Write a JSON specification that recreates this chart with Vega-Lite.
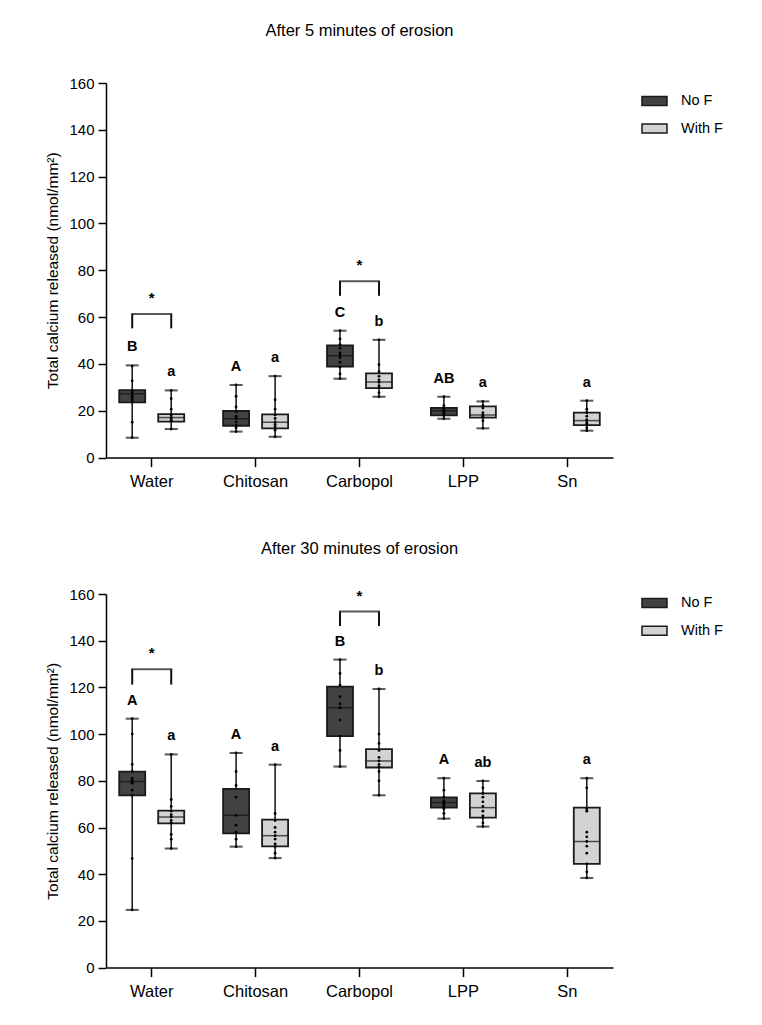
{
  "$schema": "https://vega.github.io/schema/vega-lite/v6.json",
  "background": "white",
  "padding": {"left": 45, "top": 22, "right": 10, "bottom": 10},
  "spacing": 49,
  "config": {
    "font": "Liberation Sans",
    "view": {"stroke": null},
    "axis": {"domainColor": "#000", "domainWidth": 1.5, "tickColor": "#000", "tickWidth": 1.5, "labelColor": "#000", "titleColor": "#000", "grid": false, "labelFont": "Liberation Sans", "titleFont": "Liberation Sans", "titleFontWeight": "normal"},
    "title": {"font": "Liberation Sans", "fontSize": 16.5, "fontWeight": "normal", "color": "#000", "anchor": "middle", "frame": "group"},
    "legend": {"labelFont": "Liberation Sans", "labelFontSize": 14.5, "labelColor": "#000"}
  },
  "resolve": {"legend": {"fill": "independent"}},
  "datasets": {
    "boxes": [
      {"panel": "5", "group": "Water", "F": "No F", "min": 8.5, "q1": 23.6, "median": 27.3, "q3": 28.8, "max": 39.4, "letter": "B"},
      {"panel": "5", "group": "Water", "F": "With F", "min": 12.2, "q1": 15.4, "median": 17.1, "q3": 18.6, "max": 28.7, "letter": "a"},
      {"panel": "5", "group": "Chitosan", "F": "No F", "min": 11.1, "q1": 13.6, "median": 16.6, "q3": 19.9, "max": 31.0, "letter": "A"},
      {"panel": "5", "group": "Chitosan", "F": "With F", "min": 8.9, "q1": 12.5, "median": 15.1, "q3": 18.5, "max": 34.8, "letter": "a"},
      {"panel": "5", "group": "Carbopol", "F": "No F", "min": 33.7, "q1": 38.9, "median": 43.5, "q3": 47.9, "max": 54.2, "letter": "C"},
      {"panel": "5", "group": "Carbopol", "F": "With F", "min": 26.0, "q1": 29.7, "median": 32.3, "q3": 36.0, "max": 50.3, "letter": "b"},
      {"panel": "5", "group": "LPP", "F": "No F", "min": 16.6, "q1": 18.0, "median": 20.0, "q3": 21.2, "max": 26.0, "letter": "AB"},
      {"panel": "5", "group": "LPP", "F": "With F", "min": 12.5, "q1": 17.1, "median": 18.2, "q3": 21.9, "max": 24.0, "letter": "a"},
      {"panel": "5", "group": "Sn", "F": "With F", "min": 11.5, "q1": 13.9, "median": 15.8, "q3": 19.2, "max": 24.3, "letter": "a"},
      {"panel": "30", "group": "Water", "F": "No F", "min": 24.7, "q1": 73.8, "median": 79.7, "q3": 83.9, "max": 106.6, "letter": "A"},
      {"panel": "30", "group": "Water", "F": "With F", "min": 51.0, "q1": 61.8, "median": 64.5, "q3": 67.2, "max": 91.3, "letter": "a"},
      {"panel": "30", "group": "Chitosan", "F": "No F", "min": 51.8, "q1": 57.5, "median": 65.2, "q3": 76.5, "max": 91.9, "letter": "A"},
      {"panel": "30", "group": "Chitosan", "F": "With F", "min": 46.9, "q1": 51.9, "median": 56.5, "q3": 63.4, "max": 86.9, "letter": "a"},
      {"panel": "30", "group": "Carbopol", "F": "No F", "min": 86.1, "q1": 99.1, "median": 111.3, "q3": 120.3, "max": 131.9, "letter": "B"},
      {"panel": "30", "group": "Carbopol", "F": "With F", "min": 73.8, "q1": 85.7, "median": 88.5, "q3": 93.6, "max": 119.3, "letter": "b"},
      {"panel": "30", "group": "LPP", "F": "No F", "min": 63.8, "q1": 68.5, "median": 70.7, "q3": 72.9, "max": 81.1, "letter": "A"},
      {"panel": "30", "group": "LPP", "F": "With F", "min": 60.4, "q1": 64.2, "median": 68.5, "q3": 74.6, "max": 79.9, "letter": "ab"},
      {"panel": "30", "group": "Sn", "F": "With F", "min": 38.4, "q1": 44.4, "median": 54.0, "q3": 68.5, "max": 81.1, "letter": "a"}
    ],
    "brackets": [
      {"panel": "5", "group": "Water", "F": "No F", "low": 55.2, "high": 61.3},
      {"panel": "5", "group": "Water", "F": "With F", "low": 55.2, "high": 61.3},
      {"panel": "5", "group": "Carbopol", "F": "No F", "low": 69.1, "high": 75.3},
      {"panel": "5", "group": "Carbopol", "F": "With F", "low": 69.1, "high": 75.3},
      {"panel": "30", "group": "Water", "F": "No F", "low": 121.2, "high": 127.8},
      {"panel": "30", "group": "Water", "F": "With F", "low": 121.2, "high": 127.8},
      {"panel": "30", "group": "Carbopol", "F": "No F", "low": 146.3, "high": 152.5},
      {"panel": "30", "group": "Carbopol", "F": "With F", "low": 146.3, "high": 152.5}
    ],
    "points": [
      {"panel": "5", "group": "Water", "F": "No F", "value": 39.1},
      {"panel": "5", "group": "Water", "F": "No F", "value": 32.8},
      {"panel": "5", "group": "Water", "F": "No F", "value": 28.6},
      {"panel": "5", "group": "Water", "F": "No F", "value": 27.6},
      {"panel": "5", "group": "Water", "F": "No F", "value": 26.4},
      {"panel": "5", "group": "Water", "F": "No F", "value": 25.7},
      {"panel": "5", "group": "Water", "F": "No F", "value": 24.7},
      {"panel": "5", "group": "Water", "F": "No F", "value": 23.6},
      {"panel": "5", "group": "Water", "F": "No F", "value": 15.1},
      {"panel": "5", "group": "Water", "F": "No F", "value": 8.5},
      {"panel": "5", "group": "Water", "F": "With F", "value": 28.7},
      {"panel": "5", "group": "Water", "F": "With F", "value": 25.2},
      {"panel": "5", "group": "Water", "F": "With F", "value": 20.7},
      {"panel": "5", "group": "Water", "F": "With F", "value": 18.2},
      {"panel": "5", "group": "Water", "F": "With F", "value": 17.2},
      {"panel": "5", "group": "Water", "F": "With F", "value": 16.7},
      {"panel": "5", "group": "Water", "F": "With F", "value": 15.9},
      {"panel": "5", "group": "Water", "F": "With F", "value": 15.5},
      {"panel": "5", "group": "Water", "F": "With F", "value": 12.2},
      {"panel": "5", "group": "Chitosan", "F": "No F", "value": 31.0},
      {"panel": "5", "group": "Chitosan", "F": "No F", "value": 26.2},
      {"panel": "5", "group": "Chitosan", "F": "No F", "value": 21.7},
      {"panel": "5", "group": "Chitosan", "F": "No F", "value": 19.7},
      {"panel": "5", "group": "Chitosan", "F": "No F", "value": 17.7},
      {"panel": "5", "group": "Chitosan", "F": "No F", "value": 16.7},
      {"panel": "5", "group": "Chitosan", "F": "No F", "value": 15.2},
      {"panel": "5", "group": "Chitosan", "F": "No F", "value": 13.7},
      {"panel": "5", "group": "Chitosan", "F": "No F", "value": 12.7},
      {"panel": "5", "group": "Chitosan", "F": "No F", "value": 11.1},
      {"panel": "5", "group": "Chitosan", "F": "With F", "value": 34.8},
      {"panel": "5", "group": "Chitosan", "F": "With F", "value": 24.7},
      {"panel": "5", "group": "Chitosan", "F": "With F", "value": 20.7},
      {"panel": "5", "group": "Chitosan", "F": "With F", "value": 18.2},
      {"panel": "5", "group": "Chitosan", "F": "With F", "value": 16.7},
      {"panel": "5", "group": "Chitosan", "F": "With F", "value": 15.2},
      {"panel": "5", "group": "Chitosan", "F": "With F", "value": 14.2},
      {"panel": "5", "group": "Chitosan", "F": "With F", "value": 13.2},
      {"panel": "5", "group": "Chitosan", "F": "With F", "value": 11.7},
      {"panel": "5", "group": "Chitosan", "F": "With F", "value": 8.9},
      {"panel": "5", "group": "Carbopol", "F": "No F", "value": 54.2},
      {"panel": "5", "group": "Carbopol", "F": "No F", "value": 50.7},
      {"panel": "5", "group": "Carbopol", "F": "No F", "value": 48.2},
      {"panel": "5", "group": "Carbopol", "F": "No F", "value": 46.7},
      {"panel": "5", "group": "Carbopol", "F": "No F", "value": 44.7},
      {"panel": "5", "group": "Carbopol", "F": "No F", "value": 43.7},
      {"panel": "5", "group": "Carbopol", "F": "No F", "value": 42.7},
      {"panel": "5", "group": "Carbopol", "F": "No F", "value": 40.7},
      {"panel": "5", "group": "Carbopol", "F": "No F", "value": 38.7},
      {"panel": "5", "group": "Carbopol", "F": "No F", "value": 35.7},
      {"panel": "5", "group": "Carbopol", "F": "No F", "value": 33.7},
      {"panel": "5", "group": "Carbopol", "F": "With F", "value": 50.3},
      {"panel": "5", "group": "Carbopol", "F": "With F", "value": 39.7},
      {"panel": "5", "group": "Carbopol", "F": "With F", "value": 36.7},
      {"panel": "5", "group": "Carbopol", "F": "With F", "value": 34.7},
      {"panel": "5", "group": "Carbopol", "F": "With F", "value": 33.2},
      {"panel": "5", "group": "Carbopol", "F": "With F", "value": 32.2},
      {"panel": "5", "group": "Carbopol", "F": "With F", "value": 30.7},
      {"panel": "5", "group": "Carbopol", "F": "With F", "value": 29.7},
      {"panel": "5", "group": "Carbopol", "F": "With F", "value": 27.7},
      {"panel": "5", "group": "Carbopol", "F": "With F", "value": 26.0},
      {"panel": "5", "group": "LPP", "F": "No F", "value": 26.0},
      {"panel": "5", "group": "LPP", "F": "No F", "value": 22.2},
      {"panel": "5", "group": "LPP", "F": "No F", "value": 21.2},
      {"panel": "5", "group": "LPP", "F": "No F", "value": 20.5},
      {"panel": "5", "group": "LPP", "F": "No F", "value": 20.0},
      {"panel": "5", "group": "LPP", "F": "No F", "value": 19.5},
      {"panel": "5", "group": "LPP", "F": "No F", "value": 18.7},
      {"panel": "5", "group": "LPP", "F": "No F", "value": 18.0},
      {"panel": "5", "group": "LPP", "F": "No F", "value": 16.6},
      {"panel": "5", "group": "LPP", "F": "With F", "value": 24.0},
      {"panel": "5", "group": "LPP", "F": "With F", "value": 22.2},
      {"panel": "5", "group": "LPP", "F": "With F", "value": 21.2},
      {"panel": "5", "group": "LPP", "F": "With F", "value": 19.2},
      {"panel": "5", "group": "LPP", "F": "With F", "value": 18.2},
      {"panel": "5", "group": "LPP", "F": "With F", "value": 17.7},
      {"panel": "5", "group": "LPP", "F": "With F", "value": 17.1},
      {"panel": "5", "group": "LPP", "F": "With F", "value": 15.7},
      {"panel": "5", "group": "LPP", "F": "With F", "value": 12.5},
      {"panel": "5", "group": "Sn", "F": "With F", "value": 24.3},
      {"panel": "5", "group": "Sn", "F": "With F", "value": 20.7},
      {"panel": "5", "group": "Sn", "F": "With F", "value": 19.2},
      {"panel": "5", "group": "Sn", "F": "With F", "value": 17.7},
      {"panel": "5", "group": "Sn", "F": "With F", "value": 16.2},
      {"panel": "5", "group": "Sn", "F": "With F", "value": 15.7},
      {"panel": "5", "group": "Sn", "F": "With F", "value": 14.7},
      {"panel": "5", "group": "Sn", "F": "With F", "value": 13.9},
      {"panel": "5", "group": "Sn", "F": "With F", "value": 12.7},
      {"panel": "5", "group": "Sn", "F": "With F", "value": 11.5},
      {"panel": "30", "group": "Water", "F": "No F", "value": 106.6},
      {"panel": "30", "group": "Water", "F": "No F", "value": 100.0},
      {"panel": "30", "group": "Water", "F": "No F", "value": 87.0},
      {"panel": "30", "group": "Water", "F": "No F", "value": 84.0},
      {"panel": "30", "group": "Water", "F": "No F", "value": 81.0},
      {"panel": "30", "group": "Water", "F": "No F", "value": 80.0},
      {"panel": "30", "group": "Water", "F": "No F", "value": 79.0},
      {"panel": "30", "group": "Water", "F": "No F", "value": 76.0},
      {"panel": "30", "group": "Water", "F": "No F", "value": 73.8},
      {"panel": "30", "group": "Water", "F": "No F", "value": 46.7},
      {"panel": "30", "group": "Water", "F": "No F", "value": 24.7},
      {"panel": "30", "group": "Water", "F": "With F", "value": 91.3},
      {"panel": "30", "group": "Water", "F": "With F", "value": 72.0},
      {"panel": "30", "group": "Water", "F": "With F", "value": 69.0},
      {"panel": "30", "group": "Water", "F": "With F", "value": 67.0},
      {"panel": "30", "group": "Water", "F": "With F", "value": 65.5},
      {"panel": "30", "group": "Water", "F": "With F", "value": 64.5},
      {"panel": "30", "group": "Water", "F": "With F", "value": 63.0},
      {"panel": "30", "group": "Water", "F": "With F", "value": 62.0},
      {"panel": "30", "group": "Water", "F": "With F", "value": 57.0},
      {"panel": "30", "group": "Water", "F": "With F", "value": 55.0},
      {"panel": "30", "group": "Water", "F": "With F", "value": 51.0},
      {"panel": "30", "group": "Chitosan", "F": "No F", "value": 91.9},
      {"panel": "30", "group": "Chitosan", "F": "No F", "value": 84.0},
      {"panel": "30", "group": "Chitosan", "F": "No F", "value": 78.0},
      {"panel": "30", "group": "Chitosan", "F": "No F", "value": 73.0},
      {"panel": "30", "group": "Chitosan", "F": "No F", "value": 65.2},
      {"panel": "30", "group": "Chitosan", "F": "No F", "value": 61.0},
      {"panel": "30", "group": "Chitosan", "F": "No F", "value": 58.0},
      {"panel": "30", "group": "Chitosan", "F": "No F", "value": 55.0},
      {"panel": "30", "group": "Chitosan", "F": "No F", "value": 51.8},
      {"panel": "30", "group": "Chitosan", "F": "With F", "value": 86.9},
      {"panel": "30", "group": "Chitosan", "F": "With F", "value": 66.0},
      {"panel": "30", "group": "Chitosan", "F": "With F", "value": 63.0},
      {"panel": "30", "group": "Chitosan", "F": "With F", "value": 60.0},
      {"panel": "30", "group": "Chitosan", "F": "With F", "value": 58.0},
      {"panel": "30", "group": "Chitosan", "F": "With F", "value": 56.5},
      {"panel": "30", "group": "Chitosan", "F": "With F", "value": 55.0},
      {"panel": "30", "group": "Chitosan", "F": "With F", "value": 53.0},
      {"panel": "30", "group": "Chitosan", "F": "With F", "value": 51.9},
      {"panel": "30", "group": "Chitosan", "F": "With F", "value": 49.0},
      {"panel": "30", "group": "Chitosan", "F": "With F", "value": 46.9},
      {"panel": "30", "group": "Carbopol", "F": "No F", "value": 131.9},
      {"panel": "30", "group": "Carbopol", "F": "No F", "value": 126.0},
      {"panel": "30", "group": "Carbopol", "F": "No F", "value": 121.0},
      {"panel": "30", "group": "Carbopol", "F": "No F", "value": 116.0},
      {"panel": "30", "group": "Carbopol", "F": "No F", "value": 113.0},
      {"panel": "30", "group": "Carbopol", "F": "No F", "value": 111.3},
      {"panel": "30", "group": "Carbopol", "F": "No F", "value": 106.0},
      {"panel": "30", "group": "Carbopol", "F": "No F", "value": 99.1},
      {"panel": "30", "group": "Carbopol", "F": "No F", "value": 93.0},
      {"panel": "30", "group": "Carbopol", "F": "No F", "value": 86.1},
      {"panel": "30", "group": "Carbopol", "F": "With F", "value": 119.3},
      {"panel": "30", "group": "Carbopol", "F": "With F", "value": 100.0},
      {"panel": "30", "group": "Carbopol", "F": "With F", "value": 96.0},
      {"panel": "30", "group": "Carbopol", "F": "With F", "value": 93.0},
      {"panel": "30", "group": "Carbopol", "F": "With F", "value": 90.0},
      {"panel": "30", "group": "Carbopol", "F": "With F", "value": 88.5},
      {"panel": "30", "group": "Carbopol", "F": "With F", "value": 87.0},
      {"panel": "30", "group": "Carbopol", "F": "With F", "value": 86.0},
      {"panel": "30", "group": "Carbopol", "F": "With F", "value": 84.0},
      {"panel": "30", "group": "Carbopol", "F": "With F", "value": 80.0},
      {"panel": "30", "group": "Carbopol", "F": "With F", "value": 73.8},
      {"panel": "30", "group": "LPP", "F": "No F", "value": 81.1},
      {"panel": "30", "group": "LPP", "F": "No F", "value": 76.0},
      {"panel": "30", "group": "LPP", "F": "No F", "value": 73.0},
      {"panel": "30", "group": "LPP", "F": "No F", "value": 71.5},
      {"panel": "30", "group": "LPP", "F": "No F", "value": 70.7},
      {"panel": "30", "group": "LPP", "F": "No F", "value": 70.0},
      {"panel": "30", "group": "LPP", "F": "No F", "value": 69.0},
      {"panel": "30", "group": "LPP", "F": "No F", "value": 68.0},
      {"panel": "30", "group": "LPP", "F": "No F", "value": 66.0},
      {"panel": "30", "group": "LPP", "F": "No F", "value": 63.8},
      {"panel": "30", "group": "LPP", "F": "With F", "value": 79.9},
      {"panel": "30", "group": "LPP", "F": "With F", "value": 77.0},
      {"panel": "30", "group": "LPP", "F": "With F", "value": 74.6},
      {"panel": "30", "group": "LPP", "F": "With F", "value": 73.0},
      {"panel": "30", "group": "LPP", "F": "With F", "value": 71.0},
      {"panel": "30", "group": "LPP", "F": "With F", "value": 69.0},
      {"panel": "30", "group": "LPP", "F": "With F", "value": 67.0},
      {"panel": "30", "group": "LPP", "F": "With F", "value": 65.0},
      {"panel": "30", "group": "LPP", "F": "With F", "value": 64.2},
      {"panel": "30", "group": "LPP", "F": "With F", "value": 62.0},
      {"panel": "30", "group": "LPP", "F": "With F", "value": 60.4},
      {"panel": "30", "group": "Sn", "F": "With F", "value": 81.1},
      {"panel": "30", "group": "Sn", "F": "With F", "value": 77.0},
      {"panel": "30", "group": "Sn", "F": "With F", "value": 68.0},
      {"panel": "30", "group": "Sn", "F": "With F", "value": 67.0},
      {"panel": "30", "group": "Sn", "F": "With F", "value": 58.0},
      {"panel": "30", "group": "Sn", "F": "With F", "value": 56.0},
      {"panel": "30", "group": "Sn", "F": "With F", "value": 54.0},
      {"panel": "30", "group": "Sn", "F": "With F", "value": 52.0},
      {"panel": "30", "group": "Sn", "F": "With F", "value": 49.0},
      {"panel": "30", "group": "Sn", "F": "With F", "value": 44.4},
      {"panel": "30", "group": "Sn", "F": "With F", "value": 41.0},
      {"panel": "30", "group": "Sn", "F": "With F", "value": 38.4}
    ]
  },
  "vconcat": [
    {
      "title": {"text": "After 5 minutes of erosion", "offset": 37},
      "width": 507,
      "height": 374.6,
      "encoding": {
        "x": {"field": "group", "type": "nominal", "sort": ["Water", "Chitosan", "Carbopol", "LPP", "Sn"],
              "scale": {"domain": ["Water", "Chitosan", "Carbopol", "LPP", "Sn"], "paddingInner": 0.12, "paddingOuter": 0},
              "axis": {"title": null, "labelAngle": 0, "labelFontSize": 16.5, "tickSize": 9, "labelPadding": 7}}
      },
      "layer": [
        {
          "data": {"name": "boxes"},
          "transform": [{"filter": "datum.panel == '5'"}],
          "mark": {"type": "rule", "color": "#111", "strokeWidth": 1.5},
          "encoding": {
            "xOffset": {"field": "F", "type": "nominal", "scale": {"domain": ["No F", "With F"], "paddingInner": 0, "paddingOuter": 0.172}},
            "y": {"field": "min", "type": "quantitative", "scale": {"domain": [0, 160], "nice": false},
                  "axis": {"title": "Total calcium released (nmol/mm²)", "titleFontSize": 15.5, "titlePadding": 8, "values": [0, 20, 40, 60, 80, 100, 120, 140, 160], "labelFontSize": 15, "tickSize": 8, "labelPadding": 4}},
            "y2": {"field": "max"}
          }
        },
        {
          "data": {"name": "boxes"},
          "transform": [{"filter": "datum.panel == '5'"}],
          "mark": {"type": "bar", "width": 26, "stroke": "#1a1a1a", "strokeWidth": 1.8},
          "encoding": {
            "xOffset": {"field": "F", "type": "nominal", "scale": {"domain": ["No F", "With F"], "paddingInner": 0, "paddingOuter": 0.172}},
            "y": {"field": "q1", "type": "quantitative"},
            "y2": {"field": "q3"},
            "fill": {"field": "F", "type": "nominal", "scale": {"domain": ["No F", "With F"], "range": ["#424242", "#d3d3d3"]},
                     "legend": {"title": null, "orient": "none", "legendX": 535, "legendY": 4.5, "symbolType": "M-1,-0.36H1V0.36H-1Z", "symbolSize": 625, "symbolStrokeColor": "#1a1a1a", "symbolStrokeWidth": 1.5, "labelOffset": 13, "rowPadding": 6.6, "padding": 0}}
          }
        },
        {
          "data": {"name": "boxes"},
          "transform": [{"filter": "datum.panel == '5'"}],
          "mark": {"type": "tick", "size": 26, "thickness": 1.5, "color": "#111"},
          "encoding": {
            "xOffset": {"field": "F", "type": "nominal", "scale": {"domain": ["No F", "With F"], "paddingInner": 0, "paddingOuter": 0.172}},
            "y": {"field": "median", "type": "quantitative"}
          }
        },
        {
          "data": {"name": "boxes"},
          "transform": [{"filter": "datum.panel == '5'"}],
          "mark": {"type": "tick", "size": 13, "thickness": 2, "color": "#111"},
          "encoding": {
            "xOffset": {"field": "F", "type": "nominal", "scale": {"domain": ["No F", "With F"], "paddingInner": 0, "paddingOuter": 0.172}},
            "y": {"field": "min", "type": "quantitative"}
          }
        },
        {
          "data": {"name": "boxes"},
          "transform": [{"filter": "datum.panel == '5'"}],
          "mark": {"type": "tick", "size": 13, "thickness": 2, "color": "#111"},
          "encoding": {
            "xOffset": {"field": "F", "type": "nominal", "scale": {"domain": ["No F", "With F"], "paddingInner": 0, "paddingOuter": 0.172}},
            "y": {"field": "max", "type": "quantitative"}
          }
        },
        {
          "data": {"name": "points"},
          "transform": [{"filter": "datum.panel == '5'"}],
          "mark": {"type": "circle", "size": 8, "color": "#000", "opacity": 1},
          "encoding": {
            "xOffset": {"field": "F", "type": "nominal", "scale": {"domain": ["No F", "With F"], "paddingInner": 0, "paddingOuter": 0.172}},
            "y": {"field": "value", "type": "quantitative"}
          }
        },
        {
          "data": {"name": "boxes"},
          "transform": [{"filter": "datum.panel == '5'"}],
          "mark": {"type": "text", "fontSize": 14.5, "fontWeight": "bold", "dy": -18, "baseline": "middle", "color": "#000"},
          "encoding": {
            "xOffset": {"field": "F", "type": "nominal", "scale": {"domain": ["No F", "With F"], "paddingInner": 0, "paddingOuter": 0.172}},
            "y": {"field": "max", "type": "quantitative"},
            "text": {"field": "letter"}
          }
        },
        {
          "data": {"name": "brackets"},
          "transform": [{"filter": "datum.panel == '5'"}],
          "mark": {"type": "rule", "color": "#111", "strokeWidth": 2},
          "encoding": {
            "xOffset": {"field": "F", "type": "nominal", "scale": {"domain": ["No F", "With F"], "paddingInner": 0, "paddingOuter": 0.172}},
            "y": {"field": "low", "type": "quantitative"},
            "y2": {"field": "high"}
          }
        },
        {
          "data": {"name": "brackets"},
          "transform": [{"filter": "datum.panel == '5' && datum.F == 'No F'"}],
          "mark": {"type": "tick", "size": 41, "thickness": 2, "color": "#111"},
          "encoding": {
            "y": {"field": "high", "type": "quantitative"}
          }
        },
        {
          "data": {"name": "brackets"},
          "transform": [{"filter": "datum.panel == '5' && datum.F == 'No F'"}],
          "mark": {"type": "text", "text": "*", "fontSize": 15, "fontWeight": "bold", "dy": -16, "baseline": "middle", "color": "#000"},
          "encoding": {
            "y": {"field": "high", "type": "quantitative"}
          }
        }
      ]
    },
    {
      "title": {"text": "After 30 minutes of erosion", "offset": 30},
      "width": 507,
      "height": 373.6,
      "encoding": {
        "x": {"field": "group", "type": "nominal", "sort": ["Water", "Chitosan", "Carbopol", "LPP", "Sn"],
              "scale": {"domain": ["Water", "Chitosan", "Carbopol", "LPP", "Sn"], "paddingInner": 0.12, "paddingOuter": 0},
              "axis": {"title": null, "labelAngle": 0, "labelFontSize": 16.5, "tickSize": 9, "labelPadding": 7}}
      },
      "layer": [
        {
          "data": {"name": "boxes"},
          "transform": [{"filter": "datum.panel == '30'"}],
          "mark": {"type": "rule", "color": "#111", "strokeWidth": 1.5},
          "encoding": {
            "xOffset": {"field": "F", "type": "nominal", "scale": {"domain": ["No F", "With F"], "paddingInner": 0, "paddingOuter": 0.172}},
            "y": {"field": "min", "type": "quantitative", "scale": {"domain": [0, 160], "nice": false},
                  "axis": {"title": "Total calcium released (nmol/mm²)", "titleFontSize": 15.5, "titlePadding": 8, "values": [0, 20, 40, 60, 80, 100, 120, 140, 160], "labelFontSize": 15, "tickSize": 8, "labelPadding": 4}},
            "y2": {"field": "max"}
          }
        },
        {
          "data": {"name": "boxes"},
          "transform": [{"filter": "datum.panel == '30'"}],
          "mark": {"type": "bar", "width": 26, "stroke": "#1a1a1a", "strokeWidth": 1.8},
          "encoding": {
            "xOffset": {"field": "F", "type": "nominal", "scale": {"domain": ["No F", "With F"], "paddingInner": 0, "paddingOuter": 0.172}},
            "y": {"field": "q1", "type": "quantitative"},
            "y2": {"field": "q3"},
            "fill": {"field": "F", "type": "nominal", "scale": {"domain": ["No F", "With F"], "range": ["#424242", "#d3d3d3"]},
                     "legend": {"title": null, "orient": "none", "legendX": 535, "legendY": -4.5, "symbolType": "M-1,-0.36H1V0.36H-1Z", "symbolSize": 625, "symbolStrokeColor": "#1a1a1a", "symbolStrokeWidth": 1.5, "labelOffset": 13, "rowPadding": 6.8, "padding": 0}}
          }
        },
        {
          "data": {"name": "boxes"},
          "transform": [{"filter": "datum.panel == '30'"}],
          "mark": {"type": "tick", "size": 26, "thickness": 1.5, "color": "#111"},
          "encoding": {
            "xOffset": {"field": "F", "type": "nominal", "scale": {"domain": ["No F", "With F"], "paddingInner": 0, "paddingOuter": 0.172}},
            "y": {"field": "median", "type": "quantitative"}
          }
        },
        {
          "data": {"name": "boxes"},
          "transform": [{"filter": "datum.panel == '30'"}],
          "mark": {"type": "tick", "size": 13, "thickness": 2, "color": "#111"},
          "encoding": {
            "xOffset": {"field": "F", "type": "nominal", "scale": {"domain": ["No F", "With F"], "paddingInner": 0, "paddingOuter": 0.172}},
            "y": {"field": "min", "type": "quantitative"}
          }
        },
        {
          "data": {"name": "boxes"},
          "transform": [{"filter": "datum.panel == '30'"}],
          "mark": {"type": "tick", "size": 13, "thickness": 2, "color": "#111"},
          "encoding": {
            "xOffset": {"field": "F", "type": "nominal", "scale": {"domain": ["No F", "With F"], "paddingInner": 0, "paddingOuter": 0.172}},
            "y": {"field": "max", "type": "quantitative"}
          }
        },
        {
          "data": {"name": "points"},
          "transform": [{"filter": "datum.panel == '30'"}],
          "mark": {"type": "circle", "size": 8, "color": "#000", "opacity": 1},
          "encoding": {
            "xOffset": {"field": "F", "type": "nominal", "scale": {"domain": ["No F", "With F"], "paddingInner": 0, "paddingOuter": 0.172}},
            "y": {"field": "value", "type": "quantitative"}
          }
        },
        {
          "data": {"name": "boxes"},
          "transform": [{"filter": "datum.panel == '30'"}],
          "mark": {"type": "text", "fontSize": 14.5, "fontWeight": "bold", "dy": -18, "baseline": "middle", "color": "#000"},
          "encoding": {
            "xOffset": {"field": "F", "type": "nominal", "scale": {"domain": ["No F", "With F"], "paddingInner": 0, "paddingOuter": 0.172}},
            "y": {"field": "max", "type": "quantitative"},
            "text": {"field": "letter"}
          }
        },
        {
          "data": {"name": "brackets"},
          "transform": [{"filter": "datum.panel == '30'"}],
          "mark": {"type": "rule", "color": "#111", "strokeWidth": 2},
          "encoding": {
            "xOffset": {"field": "F", "type": "nominal", "scale": {"domain": ["No F", "With F"], "paddingInner": 0, "paddingOuter": 0.172}},
            "y": {"field": "low", "type": "quantitative"},
            "y2": {"field": "high"}
          }
        },
        {
          "data": {"name": "brackets"},
          "transform": [{"filter": "datum.panel == '30' && datum.F == 'No F'"}],
          "mark": {"type": "tick", "size": 41, "thickness": 2, "color": "#111"},
          "encoding": {
            "y": {"field": "high", "type": "quantitative"}
          }
        },
        {
          "data": {"name": "brackets"},
          "transform": [{"filter": "datum.panel == '30' && datum.F == 'No F'"}],
          "mark": {"type": "text", "text": "*", "fontSize": 15, "fontWeight": "bold", "dy": -16, "baseline": "middle", "color": "#000"},
          "encoding": {
            "y": {"field": "high", "type": "quantitative"}
          }
        }
      ]
    }
  ]
}
